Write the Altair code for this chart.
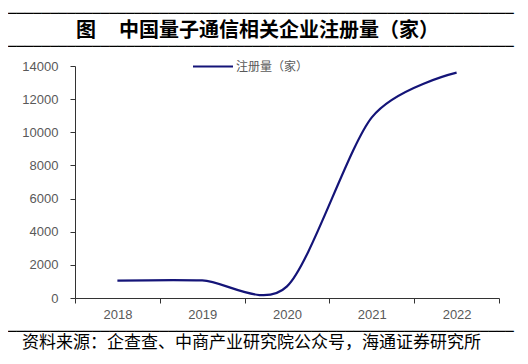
import altair as alt
import pandas as pd

years = ["2018", "2019", "2020", "2021", "2022"]
counts = [1050, 1060, 700, 10900, 13600]
series_name = "注册量（家）"
fig_label = "图"
title_text = "中国量子通信相关企业注册量（家）"
source_text = "资料来源：企查查、中商产业研究院公众号，海通证券研究所"
y_ticks = [0, 2000, 4000, 6000, 8000, 10000, 12000, 14000]

df = pd.DataFrame({"year": years, "count": counts})

W, H = 424, 232
CJK = "Noto Sans CJK SC"
LINE_COLOR = "#141478"
SEP = "\u2500" * 60


def one(tag):
    return alt.Data(values=[{"id": tag}])


line = alt.Chart(df).mark_line(interpolate="cardinal", tension=0.17, strokeWidth=2.2,
                               color=LINE_COLOR).encode(
    x=alt.X("year:O", scale=alt.Scale(type="band", paddingInner=0, paddingOuter=0),
            axis=alt.Axis(title=None, labelAngle=0, tickBand="extent", tickSize=5,
                          labelPadding=5, labelFontSize=13, labelFont="Liberation Sans",
                          labelColor="#595959", domainColor="#333333", tickColor="#333333",
                          grid=False)),
    y=alt.Y("count:Q", scale=alt.Scale(domain=[0, 14000], nice=False),
            axis=alt.Axis(title=None, values=y_ticks, format="d", tickSize=5, labelPadding=12,
                          labelFontSize=13, labelFont="Liberation Sans", labelColor="#595959",
                          domainColor="#333333", tickColor="#333333", grid=False)),
)


def separator(tag, y):
    # drawn as a run of box-drawing characters in a monospaced font
    return alt.Chart(one(tag)).mark_text(font="DejaVu Sans Mono", fontSize=14, align="left",
                                         baseline="middle", color="#000000").encode(
        x=alt.value(-67), y=alt.value(y), text=alt.value(SEP))


seps = [separator("s1", -52), separator("s2", -19.5), separator("s3", 266)]

legend_sym = alt.Chart(one("leg")).mark_rule(color=LINE_COLOR, strokeWidth=2.2).encode(
    x=alt.value(118), x2=alt.value(158), y=alt.value(0.5))
legend_txt = alt.Chart(one("lt")).mark_text(font=CJK, fontSize=12, align="left", baseline="middle",
                                            color="#595959").encode(
    x=alt.value(161), y=alt.value(0.5), text=alt.value(series_name))

fig = alt.Chart(one("fig")).mark_text(font=CJK, fontSize=20, fontWeight="bold", align="left",
                                      baseline="middle", color="#000000").encode(
    x=alt.value(1), y=alt.value(-35), text=alt.value(fig_label))
title = alt.Chart(one("title")).mark_text(font=CJK, fontSize=20, fontWeight="bold", align="left",
                                          baseline="middle", color="#000000").encode(
    x=alt.value(44), y=alt.value(-35), text=alt.value(title_text))

source = alt.Chart(one("src")).mark_text(font=CJK, fontSize=17, align="left",
                                         baseline="middle", color="#000000").encode(
    x=alt.value(-53), y=alt.value(277), text=alt.value(source_text))

chart = alt.layer(line, *seps, legend_sym, legend_txt, fig, title, source).properties(
    width=W, height=H,
    padding={"left": 67, "top": 58, "right": 21, "bottom": 56},
    autosize=alt.AutoSizeParams(type="none"),
).configure_view(stroke=None)

chart.save("out.html", embed_options={"renderer": "svg", "actions": False})
